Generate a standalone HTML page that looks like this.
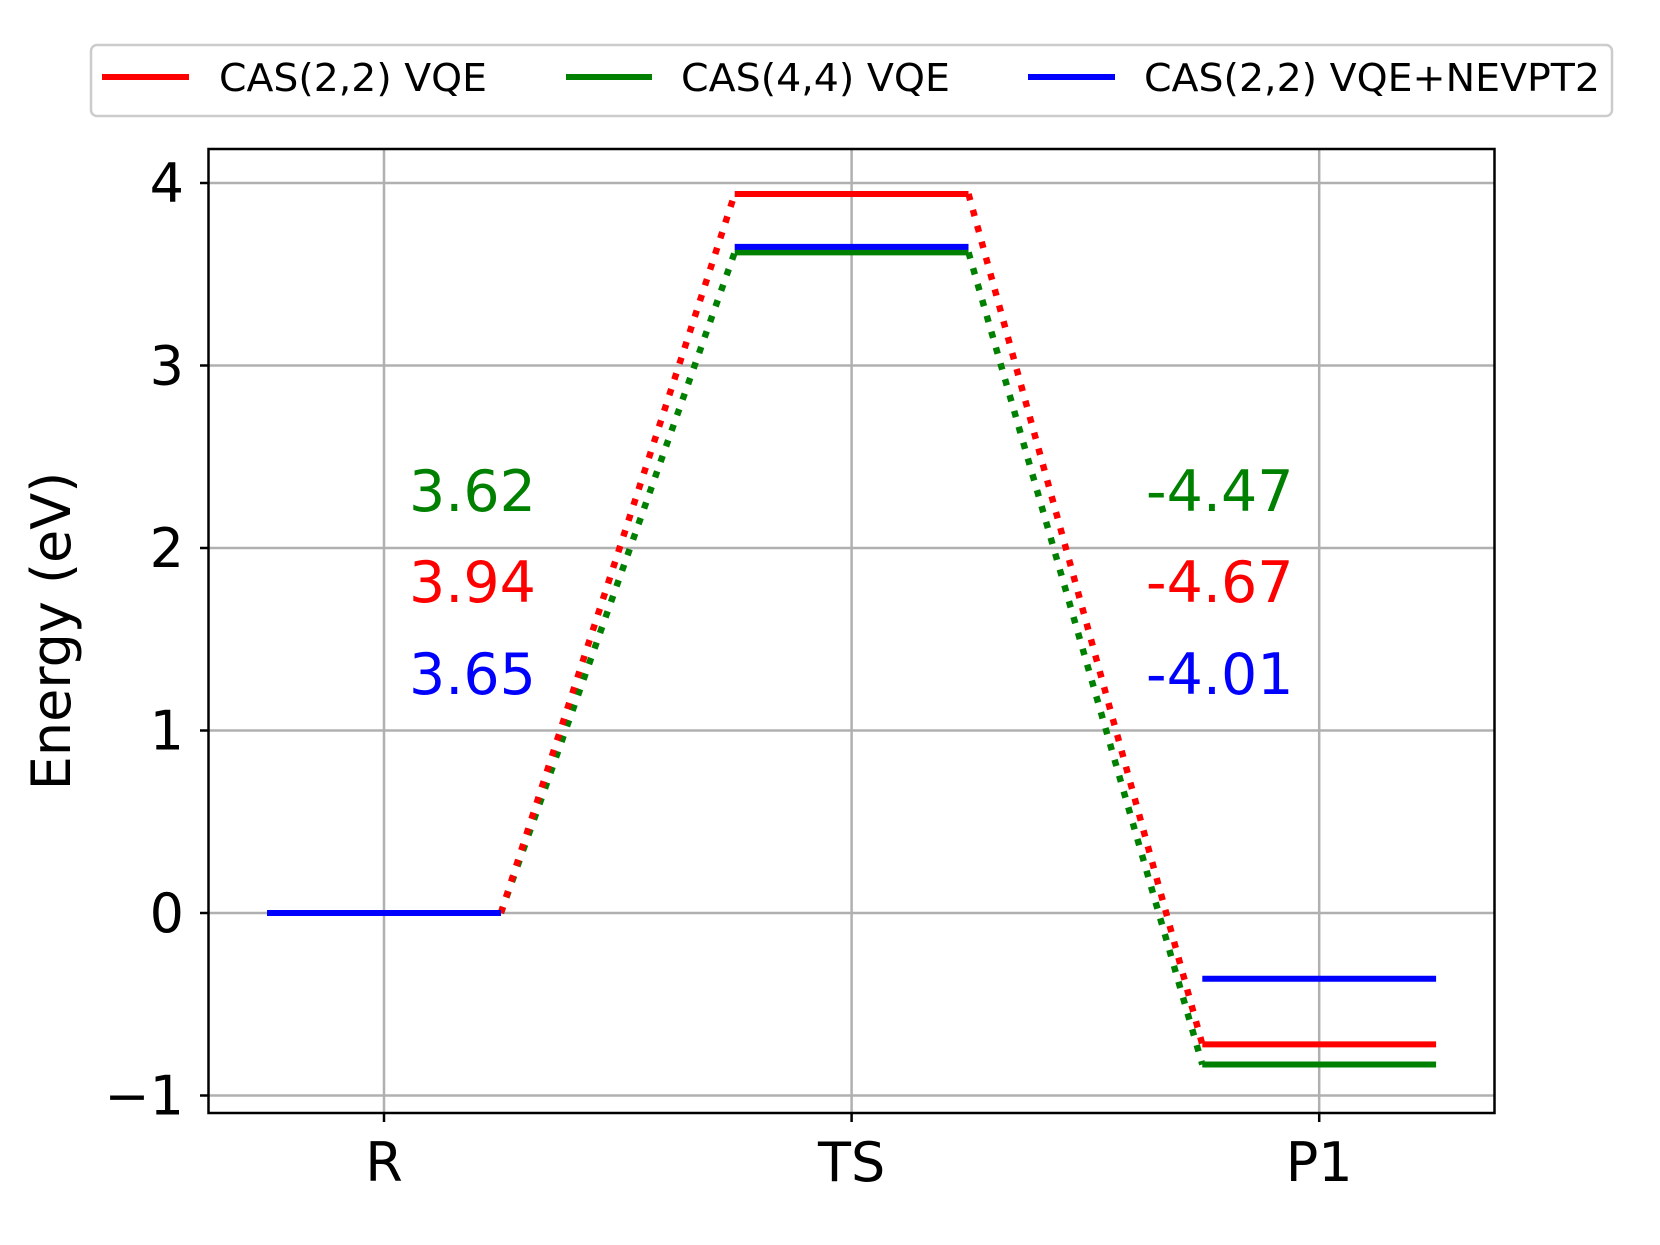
<!DOCTYPE html>
<html><head><meta charset="utf-8"><style>
html,body{margin:0;padding:0;background:#fff}
svg{display:block;font-family:"DejaVu Sans","Liberation Sans",sans-serif}
</style></head><body>
<svg id="chart" width="1660" height="1245" viewBox="0 0 1660 1245">
<rect width="1660" height="1245" fill="#fff"/>
<g id="grid"></g>
<g id="marks"></g>
<rect x="208.5" y="149" width="1286" height="964" fill="none" stroke="#000" stroke-width="2.5"/>
<g id="ticks"></g>
<text x="0" y="0" transform="translate(70,631) rotate(-90)" text-anchor="middle" font-size="54" fill="#000">Energy (eV)</text>
<g id="annot"></g>
<g>
<rect x="91" y="45" width="1521" height="71" rx="6" fill="#fff" stroke="#ccc" stroke-width="2.5"/>
<line x1="102" y1="77" x2="189" y2="77" stroke="#ff0000" stroke-width="6"/>
<text x="219" y="91" font-size="38" textLength="268" lengthAdjust="spacingAndGlyphs">CAS(2,2) VQE</text>
<line x1="566" y1="77" x2="652" y2="77" stroke="#008000" stroke-width="6"/>
<text x="681" y="91" font-size="38" textLength="269" lengthAdjust="spacingAndGlyphs">CAS(4,4) VQE</text>
<line x1="1028" y1="77" x2="1115" y2="77" stroke="#0000ff" stroke-width="6"/>
<text x="1144" y="91" font-size="38" textLength="456" lengthAdjust="spacingAndGlyphs">CAS(2,2) VQE+NEVPT2</text>
</g>
</svg>
<script>
const categories = ["R","TS","P1"];
const seriesNames = ["CAS(2,2) VQE","CAS(4,4) VQE","CAS(2,2) VQE+NEVPT2"];
const cas22 = [0, 3.94, -0.72];
const cas44 = [0, 3.62, -0.83];
const nevpt2 = [0, 3.65, -0.36];
const yTicks = [-1, 0, 1, 2, 3, 4];
const yTickLabels = ["\u22121","0","1","2","3","4"];
const leftLabels = ["3.62","3.94","3.65"];
const rightLabels = ["-4.47","-4.67","-4.01"];

const NS = "http://www.w3.org/2000/svg";
const X = v => 384 + v * 467.6;
const Y = v => 913 - v * 182.5;
function mk(tag, attrs, parent){const e=document.createElementNS(NS,tag);for(const k in attrs)e.setAttribute(k,attrs[k]);parent.appendChild(e);return e;}
const grid=document.getElementById('grid'), marks=document.getElementById('marks'), ticks=document.getElementById('ticks'), annot=document.getElementById('annot');

yTicks.forEach((t,i)=>{
  const g=mk('line',{x1:208.5,x2:1494.5,y1:Y(t),y2:Y(t),stroke:'#b0b0b0','stroke-width':2.5},grid);
  
  
  const tk=mk('line',{x1:200,x2:208.5,y1:Y(t),y2:Y(t),stroke:'#000','stroke-width':2.5},ticks);
  
  
  const lb=mk('text',{x:184,y:Y(t)+19,'text-anchor':'end','font-size':54},ticks);
  lb.textContent=yTickLabels[i];
  
  
});
categories.forEach((c,i)=>{
  const g=mk('line',{x1:X(i),x2:X(i),y1:149,y2:1113,stroke:'#b0b0b0','stroke-width':2.5},grid);
  
  
  const tk=mk('line',{x1:X(i),x2:X(i),y1:1113,y2:1122,stroke:'#000','stroke-width':2.5},ticks);
  
  
  const lb=mk('text',{x:X(i),y:1181,'text-anchor':'middle','font-size':54},ticks);
  lb.textContent=c;
  
  
});

const series=[[cas22,'#ff0000'],[cas44,'#008000'],[nevpt2,'#0000ff']];
[series[1],series[0]].forEach(([vals,col],s)=>{
  for(let i=0;i<vals.length-1;i++){
    const l=mk('line',{x1:X(i+0.25),y1:Y(vals[i]),x2:X(i+0.75),y2:Y(vals[i+1]),stroke:col,'stroke-width':6.5,'stroke-dasharray':'6.5 10'},marks);
    
    
  }
});
series.forEach(([vals,col],s)=>{
  vals.forEach((v,i)=>{
    const l=mk('line',{x1:X(i-0.25),y1:Y(v),x2:X(i+0.25),y2:Y(v),stroke:col,'stroke-width':6},marks);
    
    
  });
});

const annColors=['#008000','#ff0000','#0000ff'];
const annY=[511,602,694];
leftLabels.forEach((t,i)=>{
  const e=mk('text',{x:409,y:annY[i],'font-size':57,fill:annColors[i]},annot);
  e.textContent=t;
  
  
});
rightLabels.forEach((t,i)=>{
  const e=mk('text',{x:1146,y:annY[i],'font-size':57,fill:annColors[i]},annot);
  e.textContent=t;
  
  
});
</script>
</body></html>
